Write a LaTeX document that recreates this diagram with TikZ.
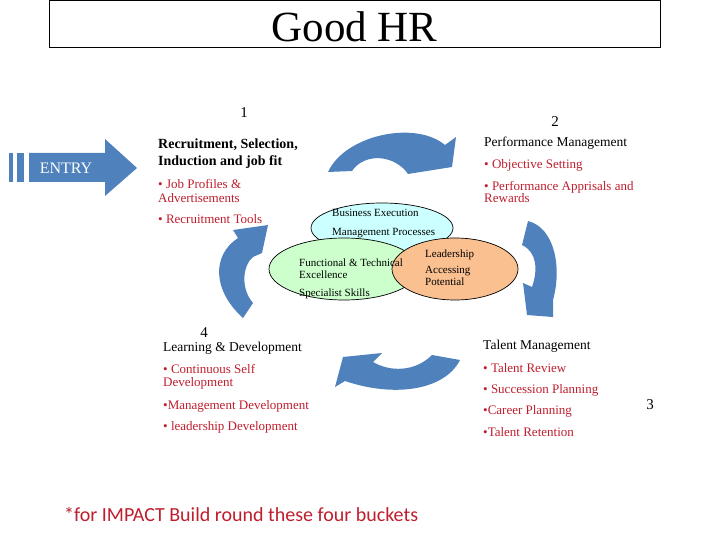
\documentclass[tikz,border=0pt]{standalone}
\usepackage{fontspec}
\setmainfont{Liberation Serif}
\newfontfamily\notefont{Carlito}
\usepackage{tikz}
\definecolor{hrblue}{RGB}{79,129,189}
\definecolor{hrred}{RGB}{190,30,45}
\definecolor{hrcyan}{RGB}{204,255,255}
\definecolor{hrgreen}{RGB}{204,255,204}
\definecolor{hrorange}{RGB}{250,192,144}
\tikzset{
	txt/.style={anchor=base west, inner sep=0pt},
	bucket/.style={txt, font=\fontsize{13.5}{16}\selectfont},
	item/.style={txt, text=hrred, font=\fontsize{13}{15}\selectfont},
	blob/.style={txt, font=\fontsize{11}{13}\selectfont},
	num/.style={anchor=base, inner sep=0pt, font=\fontsize{15}{18}\selectfont},
	ell/.style={draw=black, line width=0.7pt}
}

\begin{document}
\begin{tikzpicture}[x=1pt, y=-1pt]
			%%%%% START %%%%%
			\useasboundingbox (0,0) rectangle (720,540);
			
			\draw[line width=1pt] (49,1) rectangle (660,48);
			\node[anchor=base, inner sep=0pt, font=\fontsize{43}{50}\selectfont] (title) at (354.5,42) {Good HR};
			
			\fill[hrblue] (9,153) rectangle (13,182);
			\fill[hrblue] (17,153) rectangle (24,182);
			\fill[hrblue] (29,153) -- (105,153) -- (105,139) -- (137,168) -- (105,196) -- (105,182) -- (29,182) -- cycle;
			\node[anchor=base, inner sep=0pt, text=white, font=\fontsize{16}{18}\selectfont] (entry) at (66,174) {ENTRY};
			
			\fill[hrblue] (328,172) .. controls (345,135) and (415,120) .. (445,145) -- (456,137) -- (452,167) -- (408,174) .. controls (395,155) and (365,152) .. (352,171) -- cycle;
			\fill[hrblue] (528,221) .. controls (555,228) and (562,268) .. (553,300) -- (553,317) -- (527,315) -- (523,283) -- (532,287) .. controls (538,270) and (537,252) .. (522,245) -- cycle;
			\fill[hrblue] (460,360) .. controls (445,390) and (395,398) .. (345,381) -- (335,387) -- (343,357) -- (382,353) -- (373,362) .. controls (390,372) and (415,372) .. (432,355) -- cycle;
			\fill[hrblue] (243,318) .. controls (212,290) and (212,255) .. (238,238) -- (233,230) -- (268,225) -- (262,253) -- (253,257) .. controls (243,265) and (240,288) .. (253,303) -- cycle;
			
			\draw[ell, fill=hrcyan] (382,228) ellipse [x radius=71pt, y radius=25pt];
			\draw[ell, fill=hrgreen] (344,269) ellipse [x radius=75pt, y radius=31pt];
			\draw[ell, fill=hrorange] (455,269) ellipse [x radius=63pt, y radius=31pt];
			
			\node[blob] (bizexec) at (332,217) {Business Execution};
			\node[blob] (mgmtproc) at (332,236) {Management Processes};
			\node[blob] (functech) at (299,266) {Functional \& Technical};
			\node[blob] (excel) at (299,278) {Excellence};
			\node[blob] (specskill) at (299,296) {Specialist Skills};
			\node[blob] (leader) at (425,257) {Leadership};
			\node[blob] (access) at (425,273) {Accessing};
			\node[blob] (potential) at (425,285) {Potential};
			
			% bucket 1
			\node[num] (one) at (244,118) {1};
			\node[bucket, font=\fontsize{14}{16}\selectfont\bfseries] (recruit) at (158,149) {Recruitment, Selection,};
			\node[bucket, font=\fontsize{14}{16}\selectfont\bfseries] (induct) at (158,166) {Induction and job fit};
			\node[item] (jobprof) at (158,189) {• Job Profiles \&};
			\node[item] (advert) at (158,203) {Advertisements};
			\node[item] (rectools) at (158,224) {• Recruitment Tools};
			
			% bucket 2
			\node[num] (two) at (555,127) {2};
			\node[bucket] (perfmgmt) at (484,147) {Performance Management};
			\node[item] (objset) at (484,169) {• Objective Setting};
			\node[item] (apprisal) at (484,191) {• Performance Apprisals and};
			\node[item] (rewards) at (484,203) {Rewards};
			
			% bucket 3
			\node[num] (three) at (650,409) {3};
			\node[bucket] (talmgmt) at (483,349) {Talent Management};
			\node[item] (talrev) at (483,372) {• Talent Review};
			\node[item] (succ) at (483,393) {• Succession Planning};
			\node[item] (career) at (483,414) {•Career Planning};
			\node[item] (retent) at (483,436) {•Talent Retention};
			
			% bucket 4
			\node[num] (four) at (204,337) {4};
			\node[bucket] (learndev) at (163,351) {Learning \& Development};
			\node[item] (contself) at (163,373) {•\ Continuous Self};
			\node[item] (contdev) at (163,386) {Development};
			\node[item] (mgmtdev) at (163,409) {•Management Development};
			\node[item] (leaddev) at (163,430) {• leadership Development};
			
			\node[txt, text=hrred, font=\notefont\fontsize{20}{24}\selectfont] (footnote) at (64,521) {*for IMPACT Build round these four buckets};
			
			%%%%% END %%%%%
\end{tikzpicture}
\end{document}
